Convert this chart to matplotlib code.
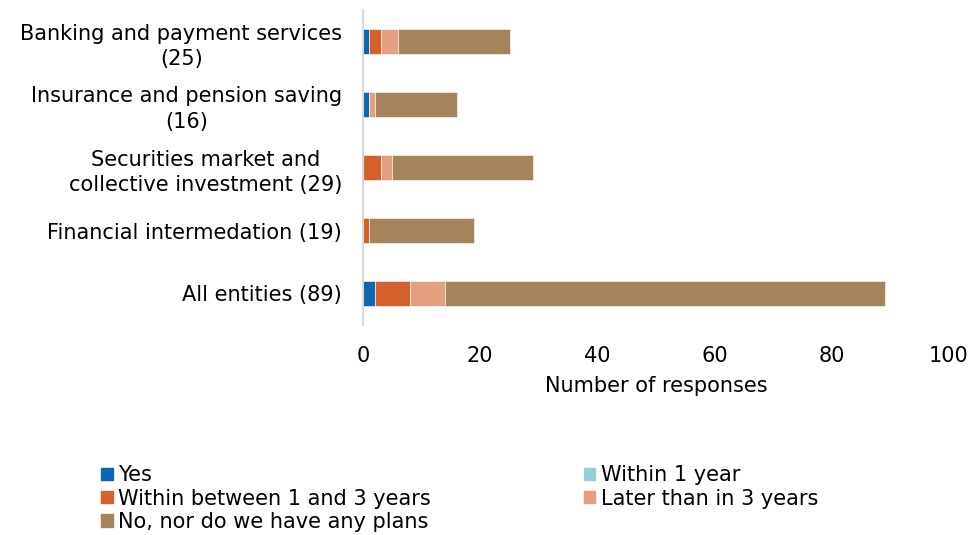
import numpy as np
import matplotlib.pyplot as plt
from matplotlib.patches import Patch

categories = ["Banking and payment services\n(25)", "Insurance and pension saving\n(16)",
              "Securities market and\ncollective investment (29)", "Financial intermedation (19)",
              "All entities (89)"]
series = ["Yes", "Within 1 year", "Within between 1 and 3 years", "Later than in 3 years",
          "No, nor do we have any plans"]
yes = [1, 1, 0, 0, 2]
within1 = [0, 0, 0, 0, 0]
within13 = [2, 0, 3, 1, 6]
later3 = [3, 1, 2, 0, 6]
no_plans = [19, 14, 24, 18, 75]
colors = ["#0B67B2", "#92CFD7", "#D5612A", "#E59F7F", "#A6845B"]

values = [yes, within1, within13, later3, no_plans]
FS = 15

fig = plt.figure(figsize=(9.78, 5.35), dpi=100)
ax = fig.add_axes([363/978, 1-325/535, 586/978, 315/535])

y = np.arange(len(categories))
left = np.zeros(len(categories))
for name, vals, c in zip(series, values, colors):
    vals = np.array(vals, dtype=float)
    ax.barh(y, vals, left=left, height=0.4, color=c, edgecolor="white", linewidth=0.4, label=name)
    left += vals

ax.set_ylim(len(categories)-0.5, -0.5)
ax.set_xlim(0, 100)
ax.set_xticks([0, 20, 40, 60, 80, 100])
ax.set_yticks(y)
ax.set_yticklabels(categories, fontsize=FS, linespacing=1.35, multialignment="center")
ax.tick_params(axis="x", labelsize=FS, length=0, pad=15)
ax.tick_params(axis="y", length=0, pad=15)
for s in ["top", "right", "bottom"]:
    ax.spines[s].set_visible(False)
ax.spines["left"].set_color("#D9D9D9")
ax.spines["left"].set_linewidth(1.5)
ax.set_xlabel("Number of responses", fontsize=FS, labelpad=7)

order = [0, 2, 4, 1, 3]
handles = [Patch(color=colors[i]) for i in order]
labels = [series[i] for i in order]
fig.legend(handles, labels, ncol=2, loc="upper left", bbox_to_anchor=(91/978, 1-455/535),
           frameon=False, fontsize=FS, handlelength=0.55, handleheight=0.55,
           handletextpad=0.25, labelspacing=0.15, columnspacing=7.35, borderpad=0)

fig.savefig("out.png", dpi=100)
